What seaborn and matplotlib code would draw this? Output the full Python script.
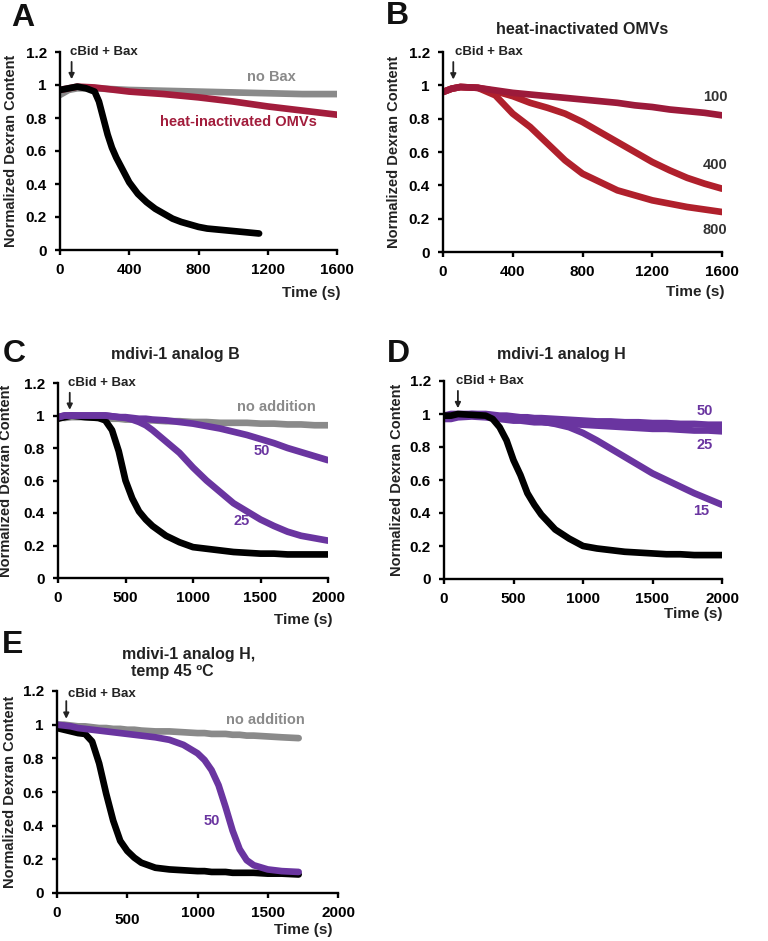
import matplotlib
matplotlib.use("Agg")
import matplotlib.pyplot as plt
import matplotlib.transforms as mtransforms
import seaborn as sns

# =====================
# Data
# =====================

# Panel A
a_time = [0, 50, 100, 200, 400, 600, 800, 1000, 1200, 1400, 1600]
a_no_bax = [0.94, 0.97, 0.98, 0.98, 0.97, 0.965, 0.96, 0.955, 0.95, 0.945, 0.945]
a_heat = [0.97, 0.98, 0.99, 0.985, 0.96, 0.945, 0.925, 0.90, 0.87, 0.845, 0.82]
a_time_black = [0, 50, 100, 150, 200, 225, 250, 275, 300, 325, 350, 375, 400,
                450, 500, 550, 600, 650, 700, 750, 800, 850, 900, 1000, 1100, 1150]
a_black = [0.97, 0.98, 0.99, 0.98, 0.96, 0.90, 0.80, 0.70, 0.62, 0.56, 0.51, 0.46, 0.41,
           0.34, 0.29, 0.25, 0.22, 0.19, 0.17, 0.155, 0.14, 0.13, 0.125, 0.115, 0.105, 0.10]

# Panel B
b_time = [0, 50, 100, 200, 300, 400, 500, 600, 700, 800, 900, 1000, 1100, 1200,
          1300, 1400, 1500, 1600]
b_100 = [0.96, 0.98, 0.99, 0.985, 0.97, 0.955, 0.945, 0.935, 0.925, 0.915, 0.905,
         0.895, 0.88, 0.87, 0.855, 0.845, 0.835, 0.82]
b_400 = [0.96, 0.98, 0.99, 0.985, 0.965, 0.935, 0.895, 0.865, 0.83, 0.78, 0.72,
         0.66, 0.60, 0.54, 0.49, 0.445, 0.41, 0.38]
b_800 = [0.96, 0.98, 0.99, 0.985, 0.94, 0.83, 0.75, 0.65, 0.55, 0.47, 0.42,
         0.37, 0.34, 0.31, 0.29, 0.27, 0.255, 0.24]

# Panel C
c_time = [0, 50, 100, 200, 300, 350, 400, 450, 500, 550, 600, 650, 700, 800, 900,
          1000, 1100, 1200, 1300, 1400, 1500, 1600, 1700, 1800, 1900, 2000]
c_none = [0.99, 0.985, 0.99, 0.99, 0.985, 0.985, 0.98, 0.98, 0.975, 0.975, 0.97, 0.97,
          0.97, 0.965, 0.965, 0.96, 0.96, 0.955, 0.955, 0.955, 0.95, 0.95, 0.945,
          0.945, 0.94, 0.94]
c_black = [0.98, 0.99, 1.0, 0.99, 0.985, 0.97, 0.91, 0.78, 0.60, 0.49, 0.41, 0.36,
           0.32, 0.26, 0.22, 0.19, 0.18, 0.17, 0.16, 0.155, 0.15, 0.15, 0.145, 0.145,
           0.145, 0.145]
c_50 = [0.99, 1.0, 1.0, 1.0, 1.0, 1.0, 0.995, 0.99, 0.99, 0.985, 0.98, 0.98, 0.975,
        0.97, 0.96, 0.95, 0.935, 0.92, 0.90, 0.88, 0.855, 0.83, 0.80, 0.775, 0.75, 0.725]
c_25 = [0.99, 1.0, 1.0, 1.0, 1.0, 1.0, 0.995, 0.99, 0.985, 0.975, 0.96, 0.94, 0.91,
        0.84, 0.77, 0.68, 0.60, 0.53, 0.46, 0.41, 0.36, 0.32, 0.285, 0.26, 0.245, 0.23]

# Panel D
d_time = c_time
d_black = [0.99, 0.99, 1.0, 0.995, 0.99, 0.97, 0.92, 0.84, 0.72, 0.63, 0.52, 0.45,
           0.39, 0.30, 0.245, 0.20, 0.185, 0.175, 0.165, 0.16, 0.155, 0.15, 0.15,
           0.145, 0.145, 0.145]
d_50 = [0.98, 0.98, 0.99, 1.0, 1.0, 0.995, 0.99, 0.99, 0.985, 0.98, 0.98, 0.975, 0.975,
        0.97, 0.965, 0.96, 0.955, 0.955, 0.95, 0.95, 0.945, 0.945, 0.94, 0.94, 0.935, 0.935]
d_25 = [0.97, 0.97, 0.98, 0.985, 0.98, 0.975, 0.97, 0.965, 0.96, 0.96, 0.955, 0.95,
        0.95, 0.945, 0.94, 0.935, 0.93, 0.925, 0.92, 0.915, 0.91, 0.91, 0.905, 0.90,
        0.90, 0.895]
d_15 = [0.99, 1.0, 1.0, 1.0, 0.995, 0.99, 0.985, 0.98, 0.975, 0.97, 0.965, 0.96, 0.955,
        0.94, 0.92, 0.885, 0.84, 0.79, 0.74, 0.69, 0.64, 0.60, 0.56, 0.52, 0.485, 0.45]

# Panel E
e_time = [0, 50, 100, 150, 200, 250, 300, 350, 400, 450, 500, 550, 600, 700, 800, 900,
          1000, 1050, 1100, 1150, 1200, 1250, 1300, 1350, 1400, 1500, 1600, 1720]
e_none = [1.0, 1.0, 0.995, 0.99, 0.99, 0.985, 0.98, 0.98, 0.975, 0.975, 0.97, 0.97,
          0.965, 0.96, 0.96, 0.955, 0.95, 0.95, 0.945, 0.945, 0.945, 0.94, 0.94, 0.935,
          0.935, 0.93, 0.925, 0.92]
e_black = [0.98, 0.97, 0.96, 0.95, 0.945, 0.90, 0.77, 0.59, 0.43, 0.31, 0.25, 0.21,
           0.18, 0.15, 0.14, 0.135, 0.13, 0.13, 0.125, 0.125, 0.125, 0.12, 0.12, 0.12,
           0.12, 0.115, 0.115, 0.11]
e_50 = [1.0, 0.995, 0.99, 0.98, 0.975, 0.97, 0.965, 0.96, 0.955, 0.95, 0.945, 0.94,
        0.935, 0.925, 0.91, 0.88, 0.83, 0.79, 0.73, 0.64, 0.51, 0.37, 0.26, 0.195, 0.165,
        0.14, 0.13, 0.125]

y_ticks = [0, 0.2, 0.4, 0.6, 0.8, 1.0, 1.2]
y_tick_labels = ["0", "0.2", "0.4", "0.6", "0.8", "1", "1.2"]

GRAY = "#8a8a8a"
CRIMSON = "#a21d3c"
RED = "#b0202c"
PURPLE = "#6a35a0"

# =====================
# Style
# =====================

sns.set_style("ticks")
plt.rcParams["font.family"] = ["Liberation Sans", "DejaVu Sans"]
plt.rcParams["font.weight"] = "bold"

W, H = 768, 941
fig = plt.figure(figsize=(W / 100, H / 100), dpi=100)


def make_axes(left, right, top, bottom):
    return fig.add_axes([left / W, 1 - bottom / H, (right - left) / W, (bottom - top) / H])


def draw(ax, t, v, color, lw=4.8):
    sns.lineplot(x=t, y=v, ax=ax, color=color, linewidth=lw,
                 estimator=None, sort=False, solid_capstyle="round",
                 solid_joinstyle="round")


def style_axes(ax, xmax, xstep, label_x):
    ax.set_xlim(0, xmax)
    ax.set_ylim(0, 1.2)
    ax.set_xticks(list(range(0, xmax + 1, xstep)))
    ax.set_xticklabels([str(v) for v in range(0, xmax + 1, xstep)])
    ax.set_yticks(y_ticks)
    ax.set_yticklabels(y_tick_labels)
    sns.despine(ax=ax)
    for s in ["left", "bottom"]:
        ax.spines[s].set_linewidth(1.7)
        ax.spines[s].set_color("black")
    ax.tick_params(direction="out", length=3.5, width=1.7, labelsize=11,
                   colors="black", pad=6)
    for lab in ax.get_xticklabels() + ax.get_yticklabels():
        lab.set_fontweight("bold")
    ax.set_ylabel("Normalized Dexran Content", fontsize=10.5, fontweight="bold",
                  color="#222222")
    ax.yaxis.set_label_coords(label_x, 0.5)
    ax.set_xlabel("")


def cbid(ax, t_text, t_arrow, y_text=1.2):
    ax.text(t_text, y_text, "cBid + Bax", fontsize=9.5, fontweight="bold",
            ha="left", va="center", color="#222222", clip_on=False)
    ax.annotate("", xy=(t_arrow, 1.035), xytext=(t_arrow, 1.14),
                arrowprops=dict(arrowstyle="-|>", color="#222222", lw=1.3,
                                mutation_scale=8, shrinkA=0, shrinkB=0),
                annotation_clip=False)


def time_label(x_px, y_px):
    fig.text(x_px / W, 1 - y_px / H, "Time (s)", fontsize=11, fontweight="bold",
             ha="right", va="center", color="#222222")


def letter(x_px, y_px, s):
    fig.text(x_px / W, 1 - y_px / H, s, fontsize=23, fontweight="bold",
             ha="left", va="center", color="#111111")


def title(x_px, y_px, s, ha="center"):
    fig.text(x_px / W, 1 - y_px / H, s, fontsize=11.5, fontweight="bold",
             ha=ha, va="center", color="#222222", multialignment="left",
             linespacing=1.15)


# =====================
# Panel A
# =====================

ax_a = make_axes(60, 337, 52, 250)
draw(ax_a, a_time, a_no_bax, GRAY)
draw(ax_a, a_time, a_heat, CRIMSON)
draw(ax_a, a_time_black, a_black, "black")
style_axes(ax_a, 1600, 400, -0.152)
cbid(ax_a, 58, 67)
ax_a.text(1220, 1.05, "no Bax", color=GRAY, fontsize=10.5, fontweight="bold",
          ha="center", va="center")
ax_a.text(1030, 0.775, "heat-inactivated OMVs", color=CRIMSON, fontsize=10.5,
          fontweight="bold", ha="center", va="center")
time_label(340, 293)
letter(11, 18, "A")

# =====================
# Panel B
# =====================

ax_b = make_axes(443, 722, 52, 252)
draw(ax_b, b_time, b_800, RED)
draw(ax_b, b_time, b_400, RED)
draw(ax_b, b_time, b_100, "#9c1a3a")
style_axes(ax_b, 1600, 400, -0.15)
cbid(ax_b, 69, 59)
for lab, y in [("100", 0.93), ("400", 0.52), ("800", 0.13)]:
    ax_b.text(1560, y, lab, fontsize=10.5, fontweight="bold", ha="center",
              va="center", color="#333333")
time_label(724, 292)
letter(386, 16, "B")
title(582, 29, "heat-inactivated OMVs")

# =====================
# Panel C
# =====================

ax_c = make_axes(58, 328, 383, 578)
draw(ax_c, c_time, c_none, GRAY)
draw(ax_c, c_time, c_black, "black")
draw(ax_c, c_time, c_50, PURPLE)
draw(ax_c, c_time, c_25, PURPLE)
style_axes(ax_c, 2000, 500, -0.167)
cbid(ax_c, 74, 87)
ax_c.text(1620, 1.05, "no addition", color=GRAY, fontsize=10.5, fontweight="bold",
          ha="center", va="center")
ax_c.text(1510, 0.78, "50", color=PURPLE, fontsize=10.5, fontweight="bold",
          ha="center", va="center")
ax_c.text(1360, 0.35, "25", color=PURPLE, fontsize=10.5, fontweight="bold",
          ha="center", va="center")
time_label(333, 620)
letter(3, 354, "C")
title(175, 355, "mdivi-1 analog B")

# =====================
# Panel D
# =====================

ax_d = make_axes(444, 722, 381, 579)
draw(ax_d, d_time, d_50, PURPLE)
draw(ax_d, d_time, d_25, PURPLE)
draw(ax_d, d_time, d_15, PURPLE)
draw(ax_d, d_time, d_black, "black")
style_axes(ax_d, 2000, 500, -0.144)
cbid(ax_d, 84, 100)
for lab, y, t in [("50", 1.02, 1873), ("25", 0.81, 1873), ("15", 0.41, 1850)]:
    ax_d.text(t, y, lab, color=PURPLE, fontsize=10.5, fontweight="bold",
              ha="center", va="center")
time_label(722, 614)
letter(387, 354, "D")
title(561, 355, "mdivi-1 analog H")

# =====================
# Panel E
# =====================

ax_e = make_axes(57, 338, 691, 893)
draw(ax_e, e_time, e_none, GRAY)
draw(ax_e, e_time, e_black, "black")
draw(ax_e, e_time, e_50, PURPLE)
style_axes(ax_e, 2000, 500, -0.142)
cbid(ax_e, 78, 66, 1.18)
ax_e.text(1480, 1.03, "no addition", color=GRAY, fontsize=10.5, fontweight="bold",
          ha="center", va="center")
ax_e.text(1100, 0.43, "50", color=PURPLE, fontsize=10.5, fontweight="bold",
          ha="center", va="center")
# the "500" label sits a little lower in the reference
lab500 = ax_e.get_xticklabels()[1]
lab500.set_transform(lab500.get_transform() +
                     mtransforms.ScaledTranslation(0, -5 / 72, fig.dpi_scale_trans))
time_label(333, 930)
letter(2, 645, "E")
title(122, 663, "mdivi-1 analog H,\n  temp 45 \u00baC", ha="left")

fig.savefig("out.png", dpi=100, facecolor="white")
